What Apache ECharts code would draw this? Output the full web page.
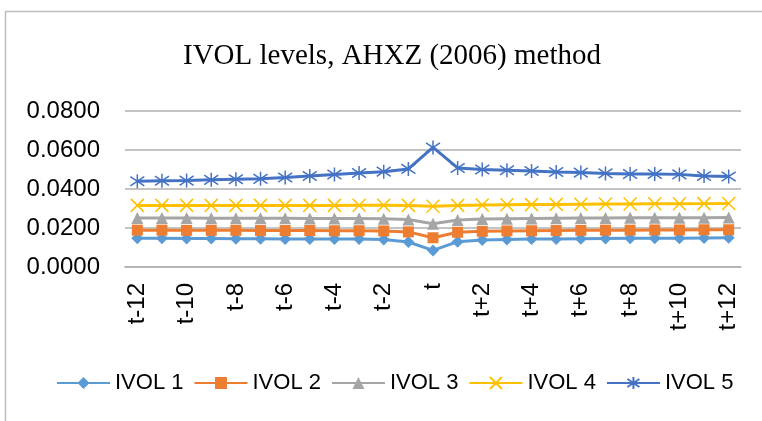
<!DOCTYPE html>
<html>
<head>
<meta charset="utf-8">
<script src="https://cdn.jsdelivr.net/npm/echarts@6/dist/echarts.min.js"></script>
<style>
  html, body { margin: 0; padding: 0; background: #fff; }
  #chart { width: 762px; height: 421px; }
</style>
</head>
<body>
<div id="chart"></div>
<script>
const periods = ['t-12', 't-11', 't-10', 't-9', 't-8', 't-7', 't-6', 't-5', 't-4', 't-3', 't-2', 't-1', 't',
    't+1', 't+2', 't+3', 't+4', 't+5', 't+6', 't+7', 't+8', 't+9', 't+10', 't+11', 't+12'];
const seriesNames = ['IVOL 1', 'IVOL 2', 'IVOL 3', 'IVOL 4', 'IVOL 5'];
const ivol1 = [0.0148, 0.0147, 0.0146, 0.0146, 0.0145, 0.0145, 0.0144, 0.0144, 0.0143, 0.0143, 0.0141, 0.0128, 0.0085,
    0.0130, 0.0138, 0.0141, 0.0143, 0.0144, 0.0145, 0.0146, 0.0147, 0.0148, 0.0148, 0.0149, 0.0150];
const ivol2 = [0.0189, 0.0189, 0.0188, 0.0188, 0.0188, 0.0187, 0.0187, 0.0187, 0.0186, 0.0186, 0.0185, 0.0180, 0.0150,
    0.0178, 0.0183, 0.0185, 0.0186, 0.0187, 0.0188, 0.0189, 0.0189, 0.0190, 0.0190, 0.0191, 0.0191];
const ivol3 = [0.0251, 0.0251, 0.0251, 0.0250, 0.0250, 0.0250, 0.0250, 0.0249, 0.0249, 0.0249, 0.0248, 0.0244, 0.0222,
    0.0241, 0.0246, 0.0248, 0.0249, 0.0250, 0.0251, 0.0251, 0.0252, 0.0252, 0.0253, 0.0253, 0.0254];
const ivol4 = [0.0316, 0.0316, 0.0316, 0.0316, 0.0316, 0.0316, 0.0316, 0.0316, 0.0316, 0.0317, 0.0317, 0.0316, 0.0312,
    0.0316, 0.0318, 0.0319, 0.0320, 0.0321, 0.0322, 0.0323, 0.0323, 0.0324, 0.0324, 0.0325, 0.0326];
const ivol5 = [0.0440, 0.0442, 0.0443, 0.0447, 0.0450, 0.0452, 0.0459, 0.0467, 0.0474, 0.0482, 0.0489, 0.0503, 0.0613,
    0.0508, 0.0500, 0.0496, 0.0492, 0.0487, 0.0484, 0.0480, 0.0477, 0.0477, 0.0475, 0.0467, 0.0464];
const yTicks = [0, 0.02, 0.04, 0.06, 0.08];

const colors = ['#5b9bd5', '#ed7d31', '#a5a5a5', '#ffc000', '#4472c4'];
const symbols = [
    'diamond',
    'rect',
    'triangle',
    'path://M0,0L10,10M10,0L0,10',
    'path://M0,1L10,9M10,1L0,9M5,-1L5,11'
];
const symbolSizes = [12, 11, 12, 13, 14];
const allData = [ivol1, ivol2, ivol3, ivol4, ivol5];

const chart = echarts.init(document.getElementById('chart'));
chart.setOption({
    animation: false,
    graphic: [{
        type: 'rect',
        shape: { x: 5.5, y: 11.5, width: 900, height: 600 },
        style: { fill: 'none', stroke: '#bfbfbf', lineWidth: 1.5 },
        silent: true
    }],
    title: {
        text: 'IVOL levels, AHXZ (2006) method',
        left: 178,
        top: 37,
        textStyle: { fontFamily: 'Liberation Serif', fontSize: 29, fontWeight: 'normal', color: '#000' }
    },
    legend: {
        data: seriesNames,
        left: 51,
        top: 367,
        itemWidth: 53,
        itemHeight: 15,
        itemGap: 10,
        textStyle: { fontFamily: 'Liberation Sans', fontSize: 22, color: '#000' }
    },
    grid: { left: 125, right: 21, top: 111, bottom: 154 },
    xAxis: {
        type: 'category',
        data: periods,
        boundaryGap: true,
        axisLine: { lineStyle: { color: '#b0b0b0', width: 1.5 } },
        axisTick: { show: false },
        axisLabel: {
            interval: 1,
            rotate: 90,
            margin: 16,
            fontFamily: 'Liberation Sans',
            fontSize: 24,
            color: '#000'
        }
    },
    yAxis: {
        type: 'value',
        min: yTicks[0],
        max: yTicks[yTicks.length - 1],
        interval: 0.02,
        axisLine: { show: false },
        axisTick: { show: false },
        splitLine: { lineStyle: { color: '#b0b0b0', width: 1.5 } },
        axisLabel: {
            margin: 25,
            fontFamily: 'Liberation Sans',
            fontSize: 24,
            color: '#000',
            formatter: v => v.toFixed(4)
        }
    },
    series: seriesNames.map((name, i) => ({
        name: name,
        type: 'line',
        data: allData[i],
        symbol: symbols[i],
        symbolSize: symbolSizes[i],
        showAllSymbol: true,
        lineStyle: { color: colors[i], width: 3 },
        itemStyle: {
            color: colors[i],
            borderColor: colors[i],
            borderWidth: i >= 3 ? 1.5 : 0
        }
    }))
});
</script>
</body>
</html>
